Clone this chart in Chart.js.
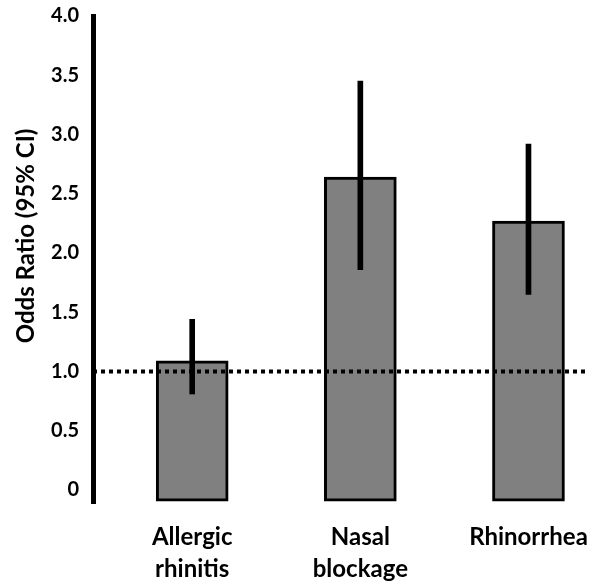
<!DOCTYPE html>
<html>
<head>
<meta charset="utf-8">
<script src="https://cdn.jsdelivr.net/npm/chart.js@4/dist/chart.umd.min.js"></script>
<style>
  html, body { margin: 0; padding: 0; background: #ffffff; }
  #wrap { width: 600px; height: 586px; }
</style>
</head>
<body>
<div id="wrap"><canvas id="c" width="600" height="586"></canvas></div>
<script>
// ---- data ----
const categories = [["Allergic", "rhinitis"], ["Nasal", "blockage"], ["Rhinorrhea"]];
const oddsRatio = [1.09, 2.64, 2.27];
const ciLow = [0.81, 1.86, 1.65];
const ciHigh = [1.44, 3.45, 2.92];
const referenceLine = 1.0;
const yTickValues = [0, 0.5, 1.0, 1.5, 2.0, 2.5, 3.0, 3.5, 4.0];
const yTickLabels = ["0", "0.5", "1.0", "1.5", "2.0", "2.5", "3.0", "3.5", "4.0"];
const yTitle = "Odds Ratio (95% CI)";
const barBase = -0.095;
const yMin = -0.11, yMax = 4.0;
const xMin = -0.59, xMax = 2.36;

const FONT = "Lato, 'Open Sans', sans-serif";

const barData = categories.map((c, i) => ({ x: i, y: oddsRatio[i] }));
const ciData = categories.map((c, i) => ({ x: i, y: [ciLow[i], ciHigh[i]] }));
const refData = [{ x: xMin, y: referenceLine }, { x: xMax, y: referenceLine }];

const zeroPad = s => { s.paddingTop = 0; s.paddingBottom = 0; s.paddingLeft = 0; s.paddingRight = 0; };

const yTitlePlugin = {
  id: 'yTitle',
  afterDraw(chart) {
    const ctx = chart.ctx;
    ctx.save();
    ctx.translate(26, 236);
    ctx.rotate(-Math.PI / 2);
    ctx.font = "bold 24px " + FONT;
    ctx.fillStyle = "#000";
    ctx.textAlign = "center";
    ctx.textBaseline = "middle";
    ctx.fillText(yTitle, 0, 0);
    ctx.restore();
  }
};

new Chart(document.getElementById('c'), {
  type: 'bar',
  data: {
    datasets: [
      {
        type: 'bar',
        data: ciData,
        backgroundColor: '#000000',
        borderWidth: 0,
        barThickness: 5,
        grouped: false,
        order: 0
      },
      {
        type: 'line',
        data: refData,
        borderColor: '#000000',
        borderWidth: 4,
        borderDash: [4, 4],
        pointRadius: 0,
        fill: false,
        order: 1
      },
      {
        type: 'bar',
        data: barData,
        base: barBase,
        backgroundColor: '#808080',
        borderColor: '#000000',
        borderWidth: 3,
        borderSkipped: false,
        barThickness: 72,
        grouped: false,
        order: 2
      }
    ]
  },
  options: {
    responsive: false,
    devicePixelRatio: 1,
    animation: false,
    layout: { padding: { left: 0, right: 11, top: 16, bottom: 0 } },
    plugins: { legend: { display: false }, tooltip: { enabled: false } },
    scales: {
      x: {
        type: 'linear',
        offset: false,
        min: xMin,
        max: xMax,
        grid: { display: false, drawTicks: false, offset: false },
        border: { display: false },
        afterBuildTicks: s => { s.ticks = categories.map((c, i) => ({ value: i })); },
        afterFit: s => { s.height = 83; zeroPad(s); },
        ticks: {
          autoSkip: false,
          maxRotation: 0,
          padding: 19,
          color: '#000',
          font: { family: FONT, size: 24, weight: 'bold', lineHeight: 1.3 },
          callback: (v) => categories[Math.round(v)]
        }
      },
      y: {
        min: yMin,
        max: yMax,
        grid: { display: false, drawTicks: false },
        border: { display: true, width: 5, color: '#000' },
        afterBuildTicks: s => { s.ticks = yTickValues.map(v => ({ value: v })); },
        afterFit: s => { s.width = 93; zeroPad(s); },
        ticks: {
          padding: 14,
          color: '#000',
          font: { family: FONT, size: 20, weight: 'bold' },
          callback: (v, i) => yTickLabels[i]
        }
      }
    }
  },
  plugins: [yTitlePlugin]
});
</script>
</body>
</html>
